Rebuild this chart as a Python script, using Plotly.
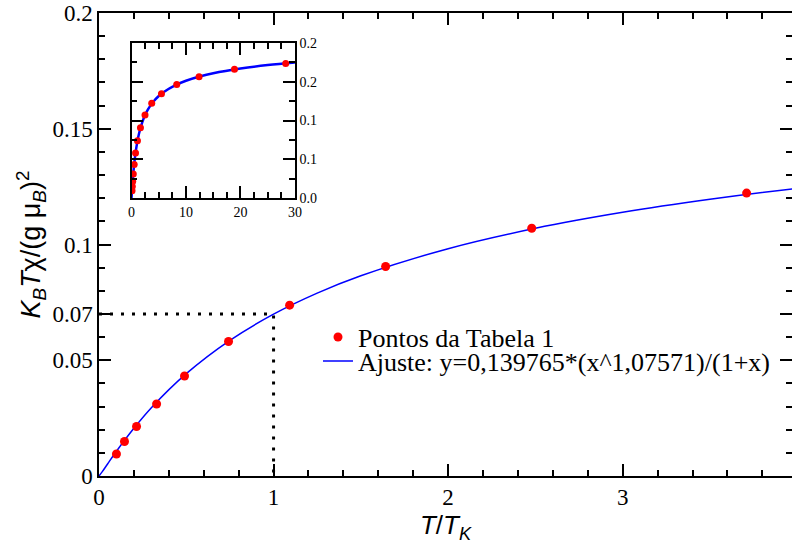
import plotly.graph_objects as go

# ---- data ----
# points of "Tabela 1": T/T_K and K_B T chi/(g mu_B)^2
t_ratio = [0.100, 0.146, 0.215, 0.330, 0.490, 0.742, 1.092, 1.642, 2.479, 3.71,
           5.5, 8.3, 12.4, 18.9, 28.3]
chi_t = [0.0095, 0.0149, 0.0214, 0.0311, 0.0432, 0.0581, 0.0738, 0.0905, 0.1070, 0.1222,
         0.1345, 0.1465, 0.1565, 0.1660, 0.1735]

# fitted curve
fit_x = [0, 0.02, 0.05, 0.1, 0.2, 0.3, 0.5, 0.75, 1.0, 1.25, 1.5, 2.0, 2.5, 3.0, 3.5,
         4.0, 5.0, 6.0, 8.0, 10.0, 12.5, 15.0, 20.0, 25.0, 30.0]
fit_y = [0, 0.0020, 0.0053, 0.0107, 0.0206, 0.0295, 0.0442, 0.0586, 0.0699, 0.0790,
         0.0865, 0.0982, 0.1070, 0.1139, 0.1195, 0.1242, 0.1316, 0.1372, 0.1454,
         0.1513, 0.1567, 0.1609, 0.1670, 0.1715, 0.1749]

# dotted guide at T/T_K = 1
guide_x = [0, 1, 1]
guide_y = [0.07, 0.07, 0]

main_yticks = [0, 0.05, 0.07, 0.1, 0.15, 0.2]
main_ytext = ["0", "0.05", "0.07", "0.1", "0.15", "0.2"]
main_xticks = [0, 1, 2, 3, 4]
inset_xticks = [0, 10, 20, 30]
inset_yticks = [0, 0.05, 0.1, 0.15, 0.2]
inset_ytext = ["0.0", "0.1", "0.1", "0.2", "0.2"]

legend_points = "Pontos da Tabela 1"
legend_fit = "Ajuste: y=0,139765*(x^1,07571)/(1+x)"

SERIF = "Liberation Serif"
SANS = "Liberation Sans"

fig = go.Figure()

# main panel
fig.add_trace(go.Scatter(x=guide_x, y=guide_y, mode="lines",
                         line=dict(color="black", width=3, dash="3px,8px"),
                         showlegend=False, hoverinfo="skip"))
fig.add_trace(go.Scatter(x=fit_x, y=fit_y, mode="lines", line_shape="spline",
                         line=dict(color="#0000ff", width=1.5),
                         name=legend_fit, legend="legend2"))
fig.add_trace(go.Scatter(x=t_ratio, y=chi_t, mode="markers",
                         marker=dict(color="#ff0000", size=9),
                         name=legend_points, legend="legend"))

# inset
fig.add_trace(go.Scatter(x=fit_x, y=fit_y, mode="lines", line_shape="spline",
                         line=dict(color="#0000ff", width=2.5),
                         xaxis="x2", yaxis="y2", showlegend=False))
fig.add_trace(go.Scatter(x=t_ratio, y=chi_t, mode="markers",
                         marker=dict(color="#ff0000", size=7),
                         xaxis="x2", yaxis="y2", showlegend=False))

axis_common = dict(showline=True, linecolor="black", linewidth=1.5, mirror="ticks",
                   ticks="inside", tickcolor="black", tickwidth=1.5,
                   showgrid=False, zeroline=False, automargin=False,
                   ticklabeloverflow="allow")

main_xminor = [i * 0.2 for i in range(1, 20) if i % 5 != 0]
main_yminor = [i * 0.01 for i in range(1, 20) if i not in (5, 7, 10, 15)]
inset_xminor = [2.5, 5, 7.5, 12.5, 15, 17.5, 22.5, 25, 27.5]
inset_yminor = [0.025, 0.075, 0.125, 0.175]

fig.update_layout(
    width=792, height=549,
    margin=dict(l=99, r=0, t=13, b=73),
    paper_bgcolor="white", plot_bgcolor="white",
    xaxis=dict(axis_common, range=[0, 3.97], tickmode="array", tickvals=main_xticks,
               ticklen=12, tickfont=dict(family=SERIF, size=23, color="black"),
               minor=dict(tickvals=main_xminor, ticks="inside", ticklen=6,
                          tickcolor="black", tickwidth=1.5),
               title=dict(text="<i>T</i>/<i>T</i><sub><i>K</i></sub>",
                          font=dict(family=SANS, size=26, color="black"), standoff=6)),
    yaxis=dict(axis_common, range=[0, 0.2], tickmode="array", tickvals=main_yticks,
               ticktext=main_ytext, ticklen=12,
               tickfont=dict(family=SERIF, size=23, color="black"),
               minor=dict(tickvals=main_yminor, ticks="inside", ticklen=6,
                          tickcolor="black", tickwidth=1.5),
               title=dict(text="<i>K</i><sub><i>B</i></sub><i>T</i>χ/(g μ<sub><i>B</i></sub>)<sup>2</sup>",
                          font=dict(family=SANS, size=27, color="black"), standoff=4)),
    xaxis2=dict(axis_common, domain=[0.0469, 0.2828], anchor="y2", range=[0, 30],
                tickmode="array", tickvals=inset_xticks, ticklen=12,
                tickfont=dict(family=SERIF, size=14, color="black"),
                minor=dict(tickvals=inset_xminor, ticks="inside", ticklen=6,
                           tickcolor="black", tickwidth=1.5)),
    yaxis2=dict(axis_common, domain=[0.6004, 0.9352], anchor="x2", side="right",
                range=[0, 0.2], tickmode="array", tickvals=inset_yticks,
                ticktext=inset_ytext, ticklen=12,
                tickfont=dict(family=SERIF, size=14, color="black"),
                minor=dict(tickvals=inset_yminor, ticks="inside", ticklen=6,
                           tickcolor="black", tickwidth=1.5)),
    legend=dict(x=0.316, y=0.300, xanchor="left", yanchor="middle",
                font=dict(family=SERIF, size=26, color="black"),
                bgcolor="rgba(0,0,0,0)", itemwidth=30),
    legend2=dict(x=0.316, y=0.248, xanchor="left", yanchor="middle",
                 font=dict(family=SERIF, size=26, color="black"),
                 bgcolor="rgba(0,0,0,0)", itemwidth=30),
)

# remove the page's default 8px body margin so the figure fills the window
fig.write_html("out.html", config={"displayModeBar": False},
               post_script="document.body.style.margin='0';document.body.style.overflow='hidden';")
